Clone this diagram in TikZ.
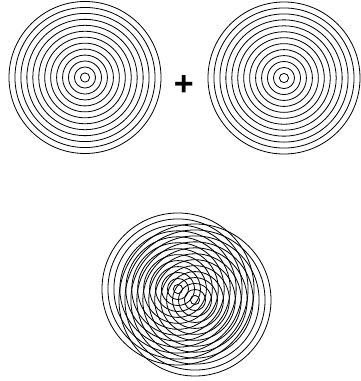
\documentclass[tikz,border=0pt]{standalone}
\usepackage{fontspec}
\setmainfont{Liberation Sans}
\begin{document}
\begin{tikzpicture}[x=1pt,y=-1pt,
  ring/.style={draw=black,line width=0.8pt},
  plussign/.style={anchor=base,inner sep=0pt,font=\bfseries\fontsize{34}{34}\selectfont}]
\useasboundingbox (0,0) rectangle (360,381);
\fill[white] (0,0) rectangle (360,381);
\coordinate (L) at (85,77.5);
\coordinate (R) at (284,78);
\coordinate (B1) at (178,289);
\coordinate (B2) at (195,300);
\foreach \c in {L,R,B1,B2}{
  \foreach \k in {0,...,12}{
    \draw[ring] (\c) circle[radius={(4.6+5.95*\k)*1pt}];
  }
}
\node[plussign] (plus) at (183.7,95) {+};
\end{tikzpicture}
\end{document}
